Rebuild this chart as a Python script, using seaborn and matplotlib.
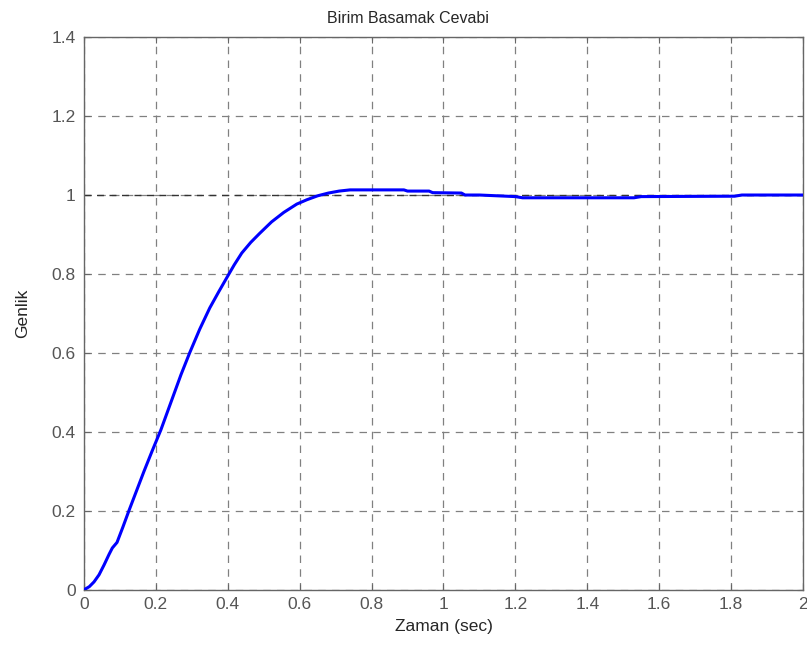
import numpy as np
import pandas as pd
import seaborn as sns
import matplotlib
matplotlib.use("Agg")
import matplotlib.pyplot as plt

# step response
zaman = [0, 0.015, 0.028, 0.042, 0.056, 0.07, 0.079, 0.092, 0.108, 0.125, 0.146, 0.167, 0.189,
         0.214, 0.244, 0.27, 0.294, 0.322, 0.35, 0.375, 0.397, 0.418, 0.439, 0.464, 0.489, 0.522,
         0.556, 0.592, 0.62, 0.65, 0.68, 0.71, 0.74, 0.89, 0.9, 0.96, 0.97, 1.05, 1.06, 1.1,
         1.2, 1.22, 1.53, 1.55, 1.81, 1.83, 2.0]
genlik = [0, 0.008, 0.02, 0.038, 0.063, 0.09, 0.106, 0.12, 0.158, 0.2, 0.25, 0.30, 0.35,
          0.405, 0.48, 0.545, 0.6, 0.66, 0.714, 0.755, 0.79, 0.823, 0.853, 0.88, 0.903, 0.932,
          0.956, 0.977, 0.988, 0.998, 1.005, 1.01, 1.013, 1.013, 1.01, 1.01, 1.006, 1.005, 1.0, 1.0,
          0.996, 0.993, 0.993, 0.996, 0.997, 1.0, 1.0]
x_ticks = [0, 0.2, 0.4, 0.6, 0.8, 1, 1.2, 1.4, 1.6, 1.8, 2]
x_labels = ["0", "0.2", "0.4", "0.6", "0.8", "1", "1.2", "1.4", "1.6", "1.8", "2"]
y_ticks = [0, 0.2, 0.4, 0.6, 0.8, 1, 1.2, 1.4]
y_labels = ["0", "0.2", "0.4", "0.6", "0.8", "1", "1.2", "1.4"]
son_deger = 1.0

df = pd.DataFrame({"Zaman": zaman, "Genlik": genlik})

sns.set_style("white")
plt.rcParams['font.family'] = ['Liberation Sans', 'DejaVu Sans']

fig = plt.figure(figsize=(8.07, 6.51), dpi=100)
ax = fig.add_axes([0.104, 0.094, 0.891, 0.849])

ax.axhline(son_deger, color="#333333", lw=1, ls=(0, (5, 4)), zorder=2)
sns.lineplot(data=df, x="Zaman", y="Genlik", color="#0000ff", lw=2.2, ax=ax, zorder=3)

ax.set_xlim(0, 2)
ax.set_ylim(0, 1.4)
ax.set_xticks(x_ticks)
ax.set_xticklabels(x_labels)
ax.set_yticks(y_ticks)
ax.set_yticklabels(y_labels)
ax.grid(True, color="#808080", lw=0.9, ls=(0, (6, 5)))
ax.tick_params(direction="in", length=4, colors="#666666", labelsize=12.5,
               top=True, right=True, bottom=True, left=True)
ax.tick_params(axis="both", labelcolor="#555555", pad=5)
ax.tick_params(axis="y", pad=6)
for s in ax.spines.values():
    s.set_color("#666666")
    s.set_linewidth(1)

ax.set_title("Birim Basamak Cevabi", fontsize=11.5, x=0.45, pad=10)
ax.set_xlabel("Zaman (sec)", fontsize=12.5, labelpad=5)
ax.set_ylabel("Genlik", fontsize=12.5, labelpad=15)

fig.savefig("out.png", dpi=100, facecolor="white")
